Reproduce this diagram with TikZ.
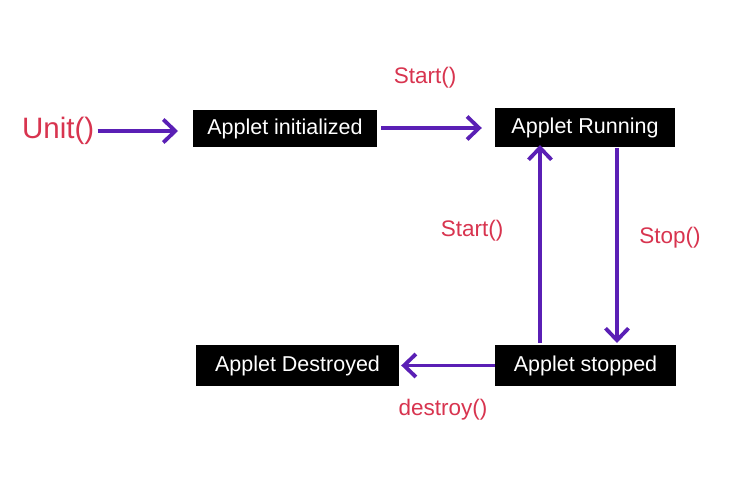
\documentclass[tikz,border=0pt]{standalone}
\usepackage{fontspec}
\setmainfont{Liberation Sans}
\usetikzlibrary{arrows.meta}
\definecolor{arrowpurple}{HTML}{5A1FB5}
\definecolor{labelred}{HTML}{D8344F}
\tikzset{
  statebox/.style={fill=black, text=white, inner sep=0pt, font=\fontsize{21.5}{24}\selectfont},
  flow/.style={draw=arrowpurple, line width=3.8pt, -{Straight Barb[length=12pt,width=23pt,line width=3.8pt]}},
  calllabel/.style={text=labelred, font=\fontsize{22.5}{26}\selectfont}
}
\begin{document}
\begin{tikzpicture}[x=1pt,y=1pt]
\useasboundingbox[fill=white] (0,0) rectangle (731,496);
\node[statebox, minimum width=184pt, minimum height=37pt] (init) at (285,367.5) {Applet initialized};
\node[statebox, minimum width=180pt, minimum height=39pt] (run) at (585,368) {Applet Running};
\node[statebox, minimum width=181pt, minimum height=41pt] (stop) at (585.5,130.5) {Applet stopped};
\node[statebox, minimum width=203pt, minimum height=41pt] (dest) at (297.5,130.5) {Applet Destroyed};
\node[text=labelred, font=\fontsize{29.5}{32}\selectfont, anchor=west, inner sep=0pt] (unit) at (22,365) {Unit()};
\coordinate (runbl) at (540,351);
\coordinate (runbr) at (617,348);
\coordinate (stopl) at (540,153);
\coordinate (stopr) at (617,153);
\coordinate (initr) at (381,368);
\draw[flow] ([xshift=3pt]unit.east) -- (178,365);
\draw[flow] (initr) -- ([xshift=-13pt]run.west |- initr);
\draw[flow] (stopl) -- (runbl);
\draw[flow] (runbr) -- (stopr);
\draw[flow] (stop.west) -- ([xshift=2pt]dest.east);
\node[calllabel] (lstart1) at (425,418) {Start()};
\node[calllabel] (lstart2) at (472,265) {Start()};
\node[calllabel] (lstop) at (670,258) {Stop()};
\node[calllabel] (ldestroy) at (443,86) {destroy()};
\end{tikzpicture}
\end{document}
